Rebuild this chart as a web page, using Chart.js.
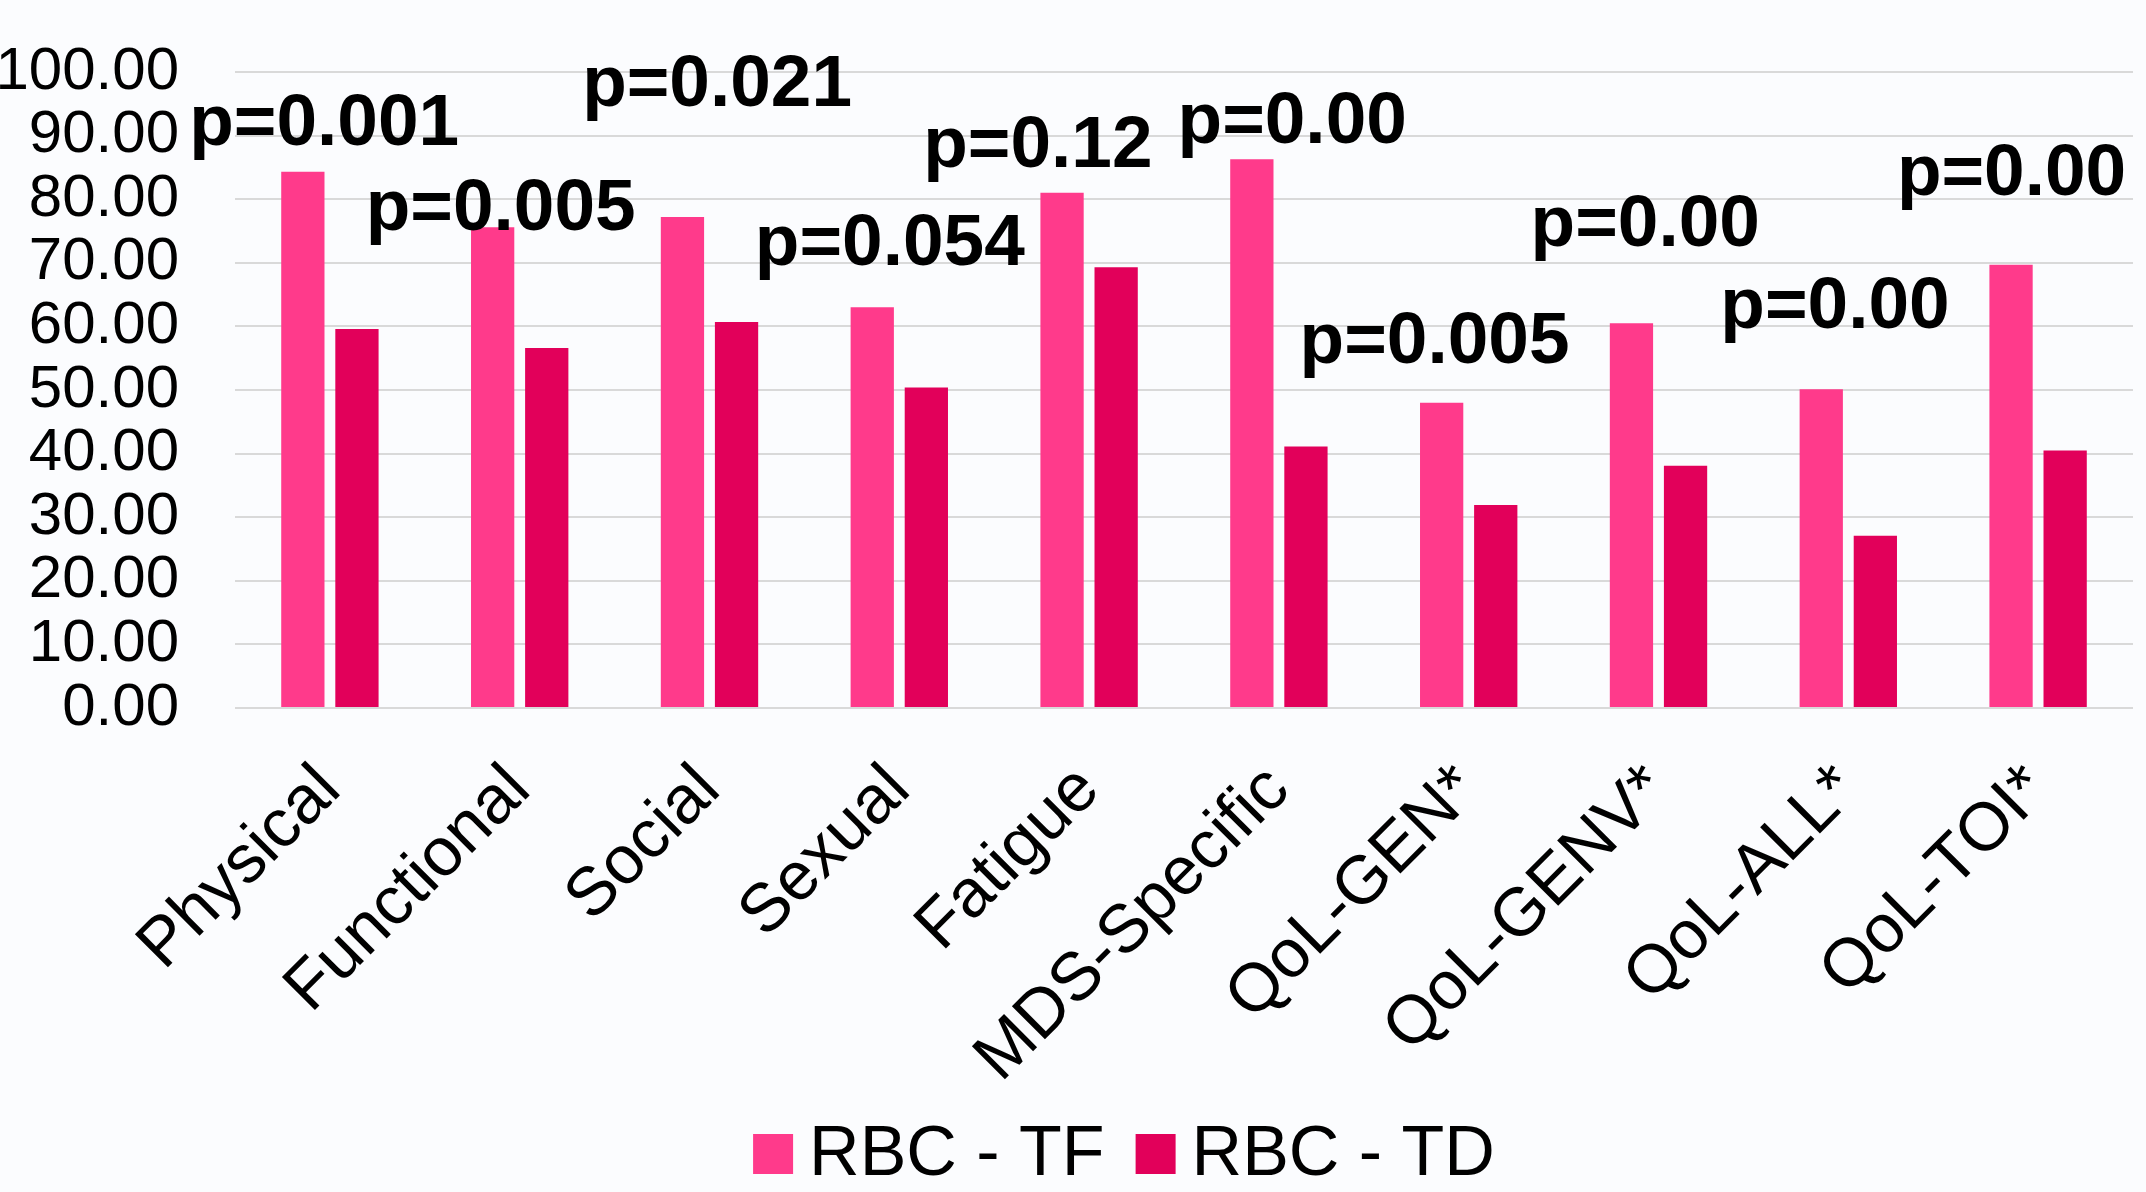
<!DOCTYPE html>
<html>
<head>
<meta charset="utf-8">
<script src="https://cdn.jsdelivr.net/npm/chart.js@4"></script>
<style>
  html, body { margin: 0; padding: 0; background: #fbfcfe; }
  #wrap { width: 2146px; height: 1192px; position: relative; }
</style>
</head>
<body>
<div id="wrap"><canvas id="chart"></canvas></div>
<script>
// Categorie e serie
const categories = ['Physical', 'Functional', 'Social', 'Sexual', 'Fatigue', 'MDS-Specific',
    'QoL-GEN*', 'QoL-GENV*', 'QoL-ALL*', 'QoL-TOI*'];
const rbcTF = [84.3, 75.6, 77.2, 63.0, 81.0, 86.3, 48.0, 60.5, 50.1, 69.7];
const rbcTD = [59.6, 56.6, 60.7, 50.4, 69.3, 41.1, 31.9, 38.1, 27.1, 40.5];
const yTicks = [0, 10, 20, 30, 40, 50, 60, 70, 80, 90, 100];

// Etichette p-value (posizione in unita' dei dati: indice categoria + spostamento, valore y della linea base)
const pLabels = ['p=0.001', 'p=0.005', 'p=0.021', 'p=0.054', 'p=0.12', 'p=0.00',
    'p=0.005', 'p=0.00', 'p=0.00', 'p=0.00'];
const pLabelShift = [-0.03, -0.10, 0.04, -0.05, -0.27, 0.07, -0.18, -0.07, -0.07, -0.14];
const pLabelValue = [88.5, 75.1, 94.7, 69.6, 85.0, 88.9, 54.3, 72.7, 59.7, 80.6];

const FONT = '"Liberation Sans", Arial, sans-serif';

// Plugin per disegnare le etichette dei p-value
const pValuePlugin = {
    id: 'pValues',
    afterDatasetsDraw(chart) {
        const ctx = chart.ctx;
        const x = chart.scales.x;
        const y = chart.scales.y;
        ctx.save();
        ctx.font = 'bold 73px ' + FONT;
        ctx.fillStyle = '#000';
        ctx.textAlign = 'center';
        ctx.textBaseline = 'alphabetic';
        pLabels.forEach((txt, i) => {
            ctx.fillText(txt, x.getPixelForValue(i + pLabelShift[i]), y.getPixelForValue(pLabelValue[i]));
        });
        ctx.restore();
    }
};

// Legenda disegnata a mano (quadrato + testo, centrata sotto il grafico)
const legendPlugin = {
    id: 'bottomLegend',
    afterDraw(chart) {
        const ctx = chart.ctx;
        const box = 40, gapText = 16, gapItem = 31;
        ctx.save();
        ctx.font = '70px ' + FONT;
        ctx.textBaseline = 'middle';
        ctx.textAlign = 'left';
        const items = chart.data.datasets.map(ds => ({
            text: ds.label,
            color: ds.backgroundColor,
            w: ctx.measureText(ds.label).width
        }));
        let total = 0;
        items.forEach((it, i) => {
            total += box + gapText + it.w + (i < items.length - 1 ? gapItem : 0);
        });
        const cy = chart.height - 38;
        let x = 1124 - total / 2;
        items.forEach(it => {
            ctx.fillStyle = it.color;
            ctx.fillRect(x, cy - box / 2, box, box);
            x += box + gapText;
            ctx.fillStyle = '#000';
            ctx.fillText(it.text, x, cy + 2);
            x += it.w + gapItem;
        });
        ctx.restore();
    }
};

const ctx = document.getElementById('chart').getContext('2d');
new Chart(ctx, {
    type: 'bar',
    data: {
        labels: categories,
        datasets: [
            {
                label: 'RBC - TF',
                data: rbcTF,
                backgroundColor: '#ff3a8b',
                categoryPercentage: 0.57,
                barPercentage: 0.8
            },
            {
                label: 'RBC - TD',
                data: rbcTD,
                backgroundColor: '#e2005a',
                categoryPercentage: 0.57,
                barPercentage: 0.8
            }
        ]
    },
    options: {
        responsive: true,
        maintainAspectRatio: false,
        animation: false,
        layout: {
            padding: { top: 72, right: 13, bottom: 0, left: 0 }
        },
        scales: {
            x: {
                grid: { display: false },
                border: { display: false },
                ticks: {
                    color: '#000',
                    font: { family: FONT, size: 68 },
                    maxRotation: 45,
                    minRotation: 45,
                    autoSkip: false,
                    padding: 34
                },
                afterFit(scale) {
                    scale.height = 484;
                    scale.paddingTop = 0;
                }
            },
            y: {
                min: 0,
                max: 100,
                afterBuildTicks(scale) { scale.ticks = yTicks.map(v => ({ value: v })); },
                grid: { color: '#d9d9d9', lineWidth: 2, drawTicks: false },
                border: { display: false },
                ticks: {
                    color: '#000',
                    font: { family: FONT, size: 60 },
                    padding: 56,
                    autoSkip: false,
                    callback: v => v.toFixed(2)
                },
                afterFit(scale) {
                    scale.width = 235;
                    scale.paddingTop = 0;
                    scale.paddingBottom = 0;
                }
            }
        },
        plugins: {
            legend: { display: false },
            tooltip: { enabled: false }
        }
    },
    plugins: [pValuePlugin, legendPlugin]
});
</script>
</body>
</html>
